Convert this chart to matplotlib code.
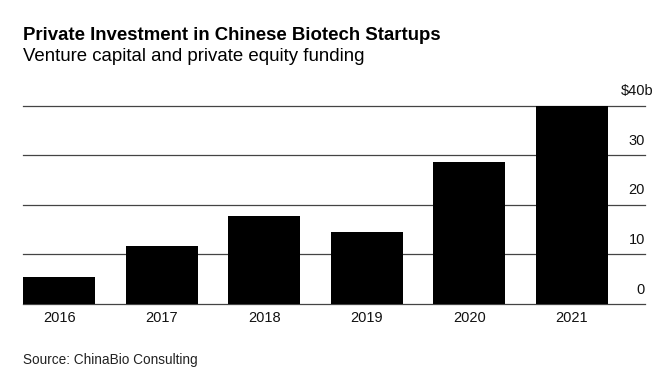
import matplotlib.pyplot as plt

years = ["2016", "2017", "2018", "2019", "2020", "2021"]
funding = [5.5, 11.8, 17.7, 14.5, 28.6, 40.0]  # $ billions
y_ticks = [0, 10, 20, 30, 40]

W, H = 670, 382
plt.rcParams['font.family'] = ['Liberation Sans', 'DejaVu Sans']

fig = plt.figure(figsize=(W / 100, H / 100), dpi=100)


def fx(px):
    return px / W


def fy(py):
    return 1 - py / H


# axes: left edge of first bar at x=23, gridlines end at x=645, 0 at y=304, 40 at y=105.7
ax = fig.add_axes([fx(23), fy(304), fx(645) - fx(23), fy(105.7) - fy(304)])
bar_w = 0.707
xs = list(range(len(years)))
ax.bar(xs, funding, width=bar_w, color='black', zorder=3)
for t in y_ticks:
    ax.axhline(t, color='#444444', linewidth=0.9, zorder=1, clip_on=False)

ax.set_xlim(-bar_w / 2, -bar_w / 2 + 622 / 102.5)
ax.set_ylim(0, 40)
ax.axis('off')

for x, lab in zip(xs, years):
    ax.text(x, -2.8, lab, ha='center', va='center', fontsize=10.5, color='#111111')

for t in y_ticks[:-1]:
    ax.text(1.0, t + 2.9, str(t), transform=ax.get_yaxis_transform(),
            ha='right', va='center', fontsize=10.5, color='#111111')

# top label: "40" lines up with the others, "$" and "b" hang outside
probe = ax.text(1.0, y_ticks[-1] + 2.9, str(y_ticks[-1]), transform=ax.get_yaxis_transform(),
                ha='right', va='center', fontsize=10.5)
probe_d = fig.text(0, 0, "\\$", fontsize=10.5)
fig.canvas.draw()
bb = probe.get_window_extent()
x_left = bb.x0 - probe_d.get_window_extent().width
y_mid = (bb.y0 + bb.y1) / 2
probe.remove()
probe_d.remove()
fig.text(x_left / W, y_mid / H, "\\$" + str(y_ticks[-1]) + "b",
         ha='left', va='center', fontsize=10.5, color='#111111')

fig.text(fx(23), fy(39.5), "Private Investment in Chinese Biotech Startups",
         fontsize=13.4, fontweight='bold', ha='left', va='baseline')
fig.text(fx(23), fy(61), "Venture capital and private equity funding",
         fontsize=13.4, ha='left', va='baseline')
fig.text(fx(23), fy(360), "Source: ChinaBio Consulting",
         fontsize=9.8, ha='left', va='center', color='#222222')

fig.savefig("out.png", dpi=100)
